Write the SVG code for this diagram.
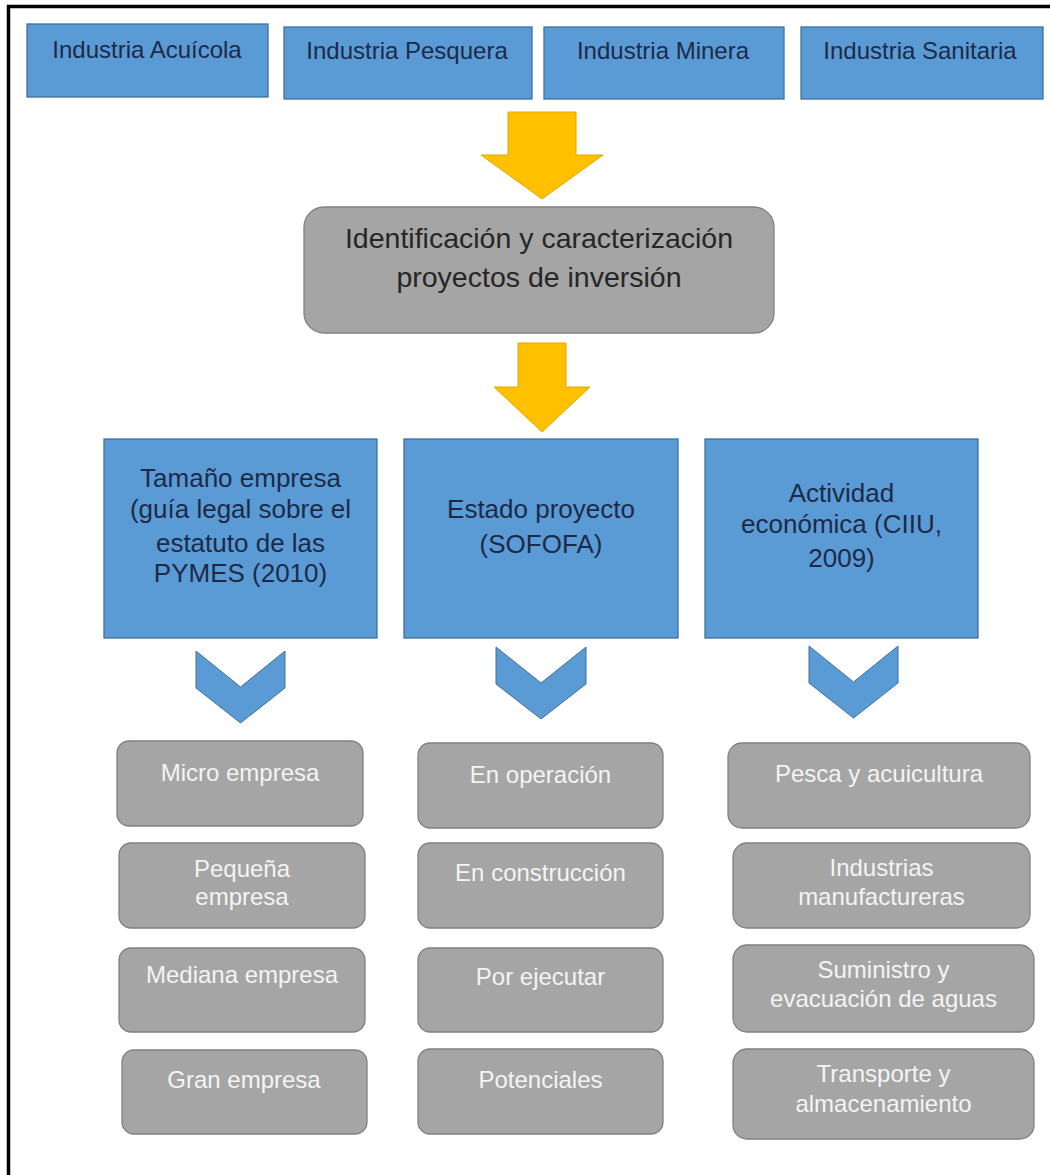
<svg xmlns="http://www.w3.org/2000/svg" width="1050" height="1175" viewBox="0 0 1050 1175">
  <defs>
    <style>
      .frame { stroke: #000; stroke-width: 3.5; fill: none; }
      .blue { fill: #5b9bd5; stroke: #41719c; stroke-width: 1.3; }
      .grey { fill: #a5a5a5; stroke: #808080; stroke-width: 1.3; }
      .yellow { fill: #ffc000; stroke: #e0a800; stroke-width: 1; }
      .chev { fill: #5b9bd5; stroke: #41719c; stroke-width: 1; }
      text { font-family: "Liberation Sans", Arial, sans-serif; text-anchor: middle; }
      .t-top { font-size: 24px; fill: #1c2a48; }
      .t-main { font-size: 28.5px; fill: #262626; }
      .t-blue { font-size: 26px; fill: #1c2a48; }
      .t-grey { font-size: 24px; fill: #f4f4f4; }
    </style>
  </defs>

  <rect width="1050" height="1175" fill="#ffffff"/>

  <!-- frame: top and left rules -->
  <line class="frame" x1="7" y1="6.5" x2="1050" y2="6.5"/>
  <line class="frame" x1="8.5" y1="5" x2="8.5" y2="1175"/>

  <!-- industry boxes -->
  <g id="ind-acuicola">
    <rect class="blue" x="27" y="24" width="241" height="73"/>
    <text class="t-top" x="147" y="58">Industria Acuícola</text>
  </g>
  <g id="ind-pesquera">
    <rect class="blue" x="284" y="27" width="248" height="72"/>
    <text class="t-top" x="407" y="59">Industria Pesquera</text>
  </g>
  <g id="ind-minera">
    <rect class="blue" x="544" y="27" width="240" height="72"/>
    <text class="t-top" x="663" y="59">Industria Minera</text>
  </g>
  <g id="ind-sanitaria">
    <rect class="blue" x="801" y="27" width="242" height="72"/>
    <text class="t-top" x="920" y="59">Industria Sanitaria</text>
  </g>

  <!-- central process box -->
  <g id="identificacion">
    <rect class="grey" x="304" y="207" width="470" height="126" rx="20" ry="20"/>
    <text class="t-main" x="539" y="248">Identificación y caracterización</text>
    <text class="t-main" x="539" y="287">proyectos de inversión</text>
  </g>

  <!-- criteria boxes -->
  <g id="tamano">
    <rect class="blue" x="104" y="439" width="273" height="199"/>
    <text class="t-blue" x="240.5" y="487">Tamaño empresa</text>
    <text class="t-blue" x="240.5" y="518">(guía legal sobre el</text>
    <text class="t-blue" x="240.5" y="552">estatuto de las</text>
    <text class="t-blue" x="240.5" y="582">PYMES (2010)</text>
  </g>
  <g id="estado">
    <rect class="blue" x="404" y="439" width="274" height="199"/>
    <text class="t-blue" x="541" y="518">Estado proyecto</text>
    <text class="t-blue" x="541" y="553">(SOFOFA)</text>
  </g>
  <g id="actividad">
    <rect class="blue" x="705" y="439" width="273" height="199"/>
    <text class="t-blue" x="841.5" y="502">Actividad</text>
    <text class="t-blue" x="841.5" y="533">económica (CIIU,</text>
    <text class="t-blue" x="841.5" y="567">2009)</text>
  </g>

  <!-- size categories -->
  <g id="micro">
    <rect class="grey" x="117" y="741" width="246" height="85" rx="12" ry="12"/>
    <text class="t-grey" x="240" y="781">Micro empresa</text>
  </g>
  <g id="pequena">
    <rect class="grey" x="119" y="843" width="246" height="85" rx="12" ry="12"/>
    <text class="t-grey" x="242" y="877">Pequeña</text>
    <text class="t-grey" x="242" y="905">empresa</text>
  </g>
  <g id="mediana">
    <rect class="grey" x="119" y="948" width="246" height="84" rx="12" ry="12"/>
    <text class="t-grey" x="242" y="983">Mediana empresa</text>
  </g>
  <g id="gran">
    <rect class="grey" x="122" y="1050" width="245" height="84" rx="12" ry="12"/>
    <text class="t-grey" x="244" y="1088">Gran empresa</text>
  </g>

  <!-- project states -->
  <g id="operacion">
    <rect class="grey" x="418" y="743" width="245" height="85" rx="12" ry="12"/>
    <text class="t-grey" x="540.5" y="783">En operación</text>
  </g>
  <g id="construccion">
    <rect class="grey" x="418" y="843" width="245" height="85" rx="12" ry="12"/>
    <text class="t-grey" x="540.5" y="881">En construcción</text>
  </g>
  <g id="ejecutar">
    <rect class="grey" x="418" y="948" width="245" height="84" rx="12" ry="12"/>
    <text class="t-grey" x="540.5" y="985">Por ejecutar</text>
  </g>
  <g id="potenciales">
    <rect class="grey" x="418" y="1049" width="245" height="85" rx="12" ry="12"/>
    <text class="t-grey" x="540.5" y="1088">Potenciales</text>
  </g>

  <!-- economic activities -->
  <g id="pesca">
    <rect class="grey" x="728" y="743" width="302" height="85" rx="14" ry="14"/>
    <text class="t-grey" x="879" y="782">Pesca y acuicultura</text>
  </g>
  <g id="manufactura">
    <rect class="grey" x="733" y="843" width="297" height="85" rx="14" ry="14"/>
    <text class="t-grey" x="881.5" y="876">Industrias</text>
    <text class="t-grey" x="881.5" y="905">manufactureras</text>
  </g>
  <g id="aguas">
    <rect class="grey" x="733" y="945" width="301" height="87" rx="14" ry="14"/>
    <text class="t-grey" x="883.5" y="978">Suministro y</text>
    <text class="t-grey" x="883.5" y="1007">evacuación de aguas</text>
  </g>
  <g id="transporte">
    <rect class="grey" x="733" y="1049" width="301" height="90" rx="14" ry="14"/>
    <text class="t-grey" x="883.5" y="1082">Transporte y</text>
    <text class="t-grey" x="883.5" y="1112">almacenamiento</text>
  </g>

  <!-- connectors -->
  <g id="connectors">
    <polygon class="yellow" points="508,112 576,112 576,155 603,155 542,199 481,155 508,155"/>
    <polygon class="yellow" points="518,343 566,343 566,387 590,387 542,432 494,387 518,387"/>
    <polygon class="chev" points="196,651 240.5,687 285,651 285,688 240.5,723 196,688"/>
    <polygon class="chev" points="496,647 541,683 586,647 586,684 541,719 496,684"/>
    <polygon class="chev" points="809,646 853.5,682 898,646 898,683 853.5,718 809,683"/>
  </g>
</svg>
